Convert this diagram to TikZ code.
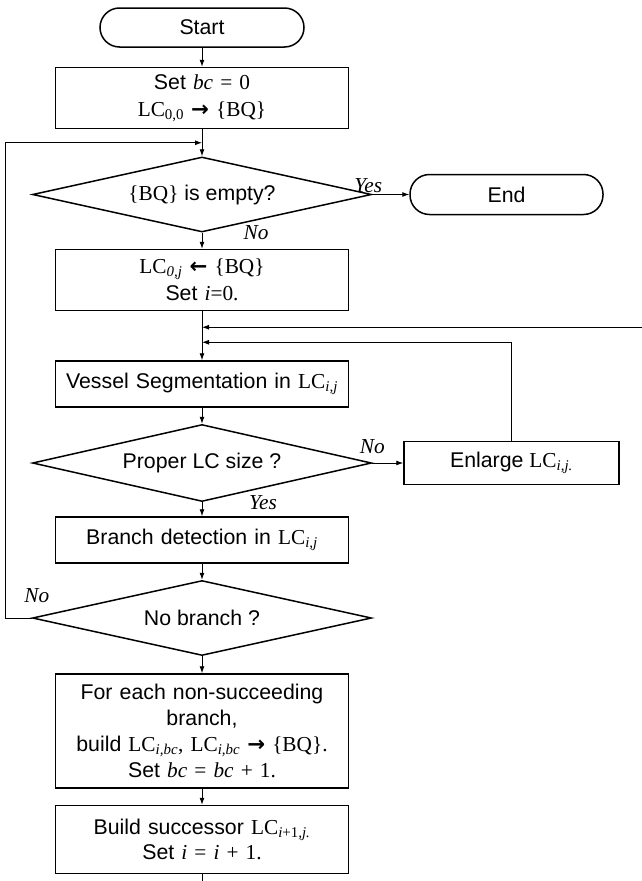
\documentclass[tikz,border=0pt]{standalone}
\usepackage{fontspec}
\setmainfont{Liberation Sans}
\newfontfamily\tmsfont{Liberation Serif}
\newfontfamily\arrfont{DejaVu Sans}
\usetikzlibrary{positioning, shapes.geometric, arrows.meta, calc}
\newcommand{\tms}[1]{{\tmsfont #1}}
\newcommand{\tmi}[1]{{\tmsfont\itshape #1}}
\newcommand{\LC}[1]{{\tmsfont LC\textsubscript{#1}}}
\newcommand{\toq}{{\arrfont\bfseries →}}
\newcommand{\fromq}{{\arrfont\bfseries ←}}
\tikzset{
    base/.style={draw, line width=1.5pt, align=center, inner sep=0pt, font=\fontsize{21.3}{27}\selectfont},
    box/.style={base, rectangle, text width=293pt},
    term/.style={base, rectangle, rounded corners=19.5pt, minimum height=39pt},
    decision/.style={base, diamond, aspect=4.5, minimum width=339pt, minimum height=75pt},
    lbl/.style={inner sep=0pt, font=\fontsize{21.3}{24}\selectfont\tmsfont\itshape},
    arrow/.style={-{Latex[length=7pt,width=5pt]}, line width=0.9pt},
    line/.style={draw, line width=0.9pt}
}
\begin{document}
\begin{tikzpicture}[x=1pt, y=1pt, >=Latex]
    \useasboundingbox (0,0) rectangle (642,-881);
    % Main column (vertical layout)
    \node [term, minimum width=204pt] (start) at (202,-27.5) {Start};
    \node [box, minimum height=61pt, below=19pt of start] (init) {Set \tmi{bc} \tms{= 0}\\ \LC{0,0} \toq{} \tms{\{BQ\}}};
    \node [decision, below=27pt of init] (empty) {\tms{\{BQ\}} is empty?};
    \node [term, minimum width=193pt, minimum height=40pt, right=37pt of empty] (finish) {End};
    \node [box, minimum height=61pt, below=16pt of empty] (queue) {\LC{\itshape 0,j} \fromq{} \tms{\{BQ\}}\\ Set \tmi{i}\tms{=0.}};
    \node [box, minimum height=46pt, below=49pt of queue] (seg) {Vessel Segmentation in \LC{\itshape i,j}};
    \node [decision, minimum height=77pt, below=16pt of seg] (size) {Proper LC size ?};
    \node [base, rectangle, minimum width=215pt, minimum height=43pt, right=31pt of size] (enlarge) {Enlarge \LC{\itshape i,j.}};
    \node [box, minimum height=46pt, below=14pt of size] (detect) {Branch detection in \LC{\itshape i,j}};
    \node [decision, below=16pt of detect] (nobr) {No branch ?};
    \node [box, minimum height=114pt, below=17pt of nobr, font=\fontsize{21.3}{26}\selectfont] (each) {For each non-succeeding\\ branch,\\ build \LC{\itshape i,bc}\tms{,} \LC{\itshape i,bc} \toq{} \tms{\{BQ\}.}\\ Set \tmi{bc} \tms{=} \tmi{bc} \tms{+ 1.}};
    \node [box, minimum height=68pt, below=16pt of each, font=\fontsize{21.3}{25}\selectfont] (succ) {Build successor \LC{\itshape i\upshape+1\itshape,j.}\\ Set \tmi{i} \tms{=} \tmi{i} \tms{+ 1.}};

    % Branch labels
    \node [lbl, above=2pt of empty.east, xshift=-4pt] (yes1) {Yes};
    \node [lbl] (no1) at ([xshift=54pt]empty.south) {No};
    \node [lbl, above=9pt of size.east] (no2) {No};
    \node [lbl] (yes2) at ([xshift=61pt]size.south) {Yes};
    \node [lbl] (no3) at ([xshift=5pt,yshift=22pt]nobr.west) {No};

    % Junction points
    \coordinate (joinT) at ($(init.south)!0.5!(empty.north)$);
    \coordinate [below=16pt of queue.south] (joinR);
    \coordinate [below=31pt of queue.south] (joinE);
    \coordinate (edgeR) at (642,0 |- joinR);
    \coordinate (edgeB) at (succ.south |- 0,-881);

    % Connections
    \draw [arrow] (start) -- (init);
    \draw [arrow] (init) -- (empty);
    \draw [arrow] (empty) -- (finish);
    \draw [arrow] (empty) -- (queue);
    \draw [arrow] (queue) -- (seg);
    \draw [arrow] (edgeR) -- (joinR);
    \draw [arrow] (enlarge.north) |- (joinE);
    \draw [arrow] (seg) -- (size);
    \draw [arrow] (size) -- (enlarge);
    \draw [arrow] (size) -- (detect);
    \draw [arrow] (detect) -- (nobr);
    \draw [arrow] (nobr.west) -- ++(-26,0) |- (joinT);
    \draw [arrow] (nobr) -- (each);
    \draw [arrow] (each) -- (succ);
    \draw [line] (succ) -- (edgeB);
\end{tikzpicture}
\end{document}
